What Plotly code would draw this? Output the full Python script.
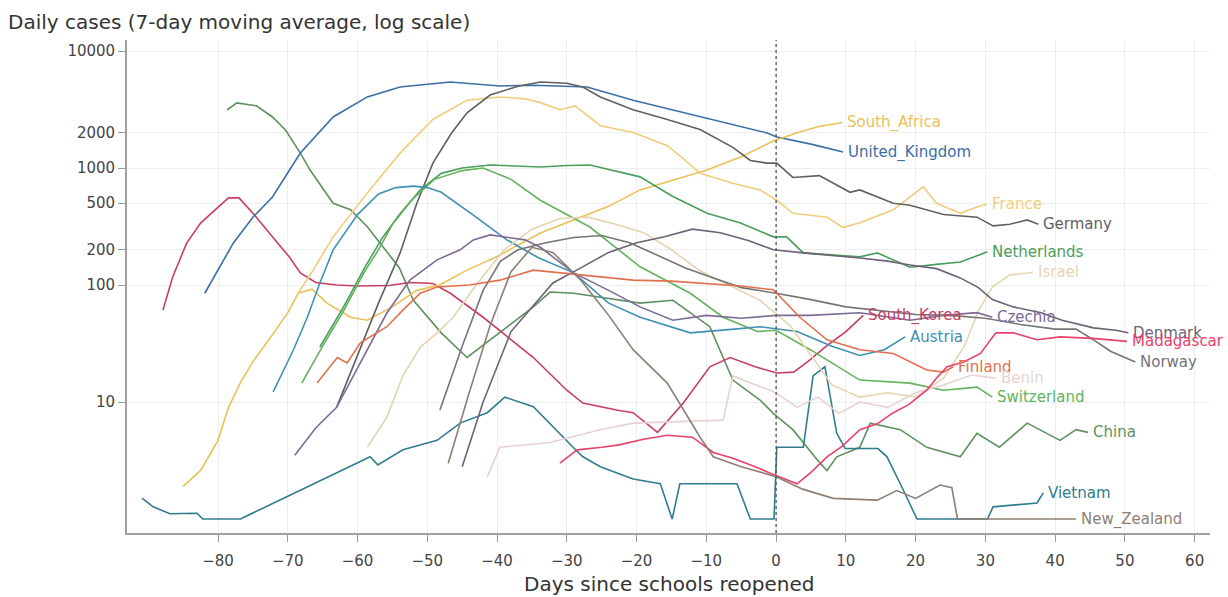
import math
import plotly.graph_objects as go

# Days since schools reopened / 7-day moving average of daily cases
south_africa_days = [-85, -82.5, -80, -78.5, -76.7, -74.8, -72, -70, -68.5, -66.5, -64.4, -61, -58.6, -55, -51.5, -48.2, -44.3, -40, -33.8, -28, -24, -19.5, -15, -9.9, -5, -0.4, 3, 6, 9.5]
south_africa_cases = [1.9, 2.6, 4.7, 9, 15, 23, 39, 58, 85, 92, 70, 53, 50, 65, 90, 100, 134, 175, 278, 380, 470, 650, 780, 960, 1250, 1700, 2000, 2250, 2450]

uk_days = [-81.9, -77.8, -75, -72.2, -68.2, -63.5, -58.6, -53.9, -46.7, -39.6, -34.8, -27.1, -20.5, -10.9, -1.3, 0.1, 5, 9.6]
uk_cases = [85, 229, 380, 565, 1343, 2730, 4050, 4920, 5430, 5020, 5100, 4920, 3800, 2730, 1990, 1840, 1600, 1370]

france_days = [-68.5, -66.4, -63.5, -58.6, -53.9, -49.2, -44.3, -39.6, -36, -33.8, -31, -28.8, -25.2, -20.5, -15.6, -13.3, -10.9, -6.2, -2.3, 0.1, 2.4, 7.3, 9.6, 12, 16.8, 19.2, 21.1, 23, 26.4, 28.8, 30.2]
france_cases = [85, 133, 258, 610, 1340, 2600, 3800, 4050, 3900, 3620, 3150, 3390, 2300, 2010, 1550, 1200, 900, 740, 650, 530, 410, 380, 310, 340, 440, 560, 690, 500, 410, 465, 490]

germany_days = [-63, -60, -57, -53.9, -51.5, -49.2, -46.5, -44.3, -41, -37, -33.8, -30, -27.7, -25.2, -20.5, -15.6, -10.9, -6.2, -3.7, -1.3, 0.1, 2.4, 6.2, 10.6, 12, 16.8, 19.2, 24, 28.8, 31.1, 33.5, 36, 37.6]
germany_cases = [9, 25, 70, 188, 500, 1100, 2000, 2960, 4200, 5000, 5430, 5300, 4920, 4050, 3150, 2600, 2130, 1500, 1160, 1100, 1100, 830, 860, 620, 650, 500, 480, 400, 380, 320, 330, 360, 330]

netherlands_days = [-65.4, -62, -59, -56.5, -54, -51, -48, -45, -41, -33.8, -30, -26.7, -19.5, -14.8, -9.9, -5.2, -0.4, 1.5, 3.9, 8, 12, 14.5, 19.2, 23, 26.4, 30.3]
netherlands_cases = [29.5, 65, 140, 250, 400, 650, 900, 1000, 1060, 1020, 1050, 1060, 840, 570, 410, 340, 258, 258, 188, 180, 174, 188, 142, 150, 157, 192]

israel_days = [-58.6, -55.8, -53.5, -51, -48.6, -46.3, -43, -39, -35, -31, -27, -23, -19, -15, -11, -6, -2.3, 2, 5, 8, 12, 16, 20, 24, 27, 29, 31, 33.5, 36.8]
israel_cases = [4.1, 7.4, 16.7, 29.5, 39, 53, 100, 200, 300, 370, 380, 330, 280, 200, 133, 95, 74, 45, 25, 14, 11, 12, 11, 16, 30, 60, 96, 122, 128]

south_korea_days = [-87.9, -86.5, -84.5, -82.5, -80.5, -78.5, -77, -75, -72.2, -69.8, -68.2, -66, -63, -60, -55.5, -52.5, -49.2, -46.7, -42, -34.8, -30, -27.7, -22.7, -20.5, -17, -13.3, -9.5, -6.6, -3, 0.1, 2.5, 4.5, 7.2, 10, 12.5]
south_korea_cases = [61, 117, 228, 338, 435, 555, 555, 410, 258, 174, 127, 105, 100, 98, 99, 105, 103, 85, 53, 24, 12.6, 9.8, 8.5, 8.1, 5.5, 9.8, 20, 24, 20, 17.7, 18, 22, 30, 40, 55]

czechia_days = [-69, -66, -63, -59.6, -55.8, -52.5, -48.6, -45.3, -43.4, -41, -36, -33.8, -29, -24, -19.5, -14.8, -10, -5, 0, 4.9, 12, 19.2, 24, 28.8, 31]
czechia_cases = [3.5, 6, 9, 21.6, 57.6, 110, 164, 200, 243, 268, 243, 210, 127, 90, 65, 50, 55, 52, 55, 55, 58, 50, 55, 58, 53]

denmark_days = [-45, -42, -38, -32, -28, -24, -20, -16, -12, -8, -4, -0.4, 3.9, 8, 12, 16, 19.2, 23, 26.4, 29, 31, 34, 38, 41, 45.5, 48.7, 50.5]
denmark_cases = [2.8, 10, 40, 104, 140, 190, 230, 258, 300, 280, 240, 200, 188, 180, 170, 160, 148, 138, 115, 95, 75, 65, 58, 50, 43, 41, 39]

madagascar_days = [-31, -28.5, -25, -22.5, -19, -15.6, -12, -9, -6.2, -3, -0.4, 3, 5, 7.3, 9.5, 12, 14.5, 16.8, 19, 21.6, 23, 24.5, 26.9, 29.3, 31.5, 34, 37.4, 40.7, 45.4, 48, 50.3]
madagascar_cases = [3.0, 3.9, 4.1, 4.3, 4.8, 5.2, 5.0, 3.7, 3.3, 2.8, 2.4, 2.0, 2.5, 3.4, 4.2, 5.8, 6.5, 8.1, 9.5, 12.6, 16, 20, 22, 26, 39, 39, 34, 36, 35, 34, 33]

norway_days = [-48.2, -45, -42, -39.5, -37, -33, -29, -25, -21, -17, -13, -9, -5, 0, 5, 10, 15, 20, 25, 30, 35, 40, 43, 45.5, 48, 51.5]
norway_cases = [8.5, 30, 90, 160, 200, 230, 255, 265, 230, 180, 140, 115, 95, 85, 75, 65, 60, 56, 55, 52, 46, 42, 42, 34, 27, 22]

austria_days = [-72.1, -69.2, -67.2, -65.4, -63.5, -60, -57, -54.5, -52, -50, -48, -43.5, -38.6, -34, -29, -24, -19.5, -12.3, -6, -2.3, 3, 8, 12, 15.5, 18.5]
austria_cases = [12.2, 27.8, 53, 104, 200, 400, 600, 680, 700, 680, 620, 400, 243, 170, 127, 70, 53, 39, 42, 44, 40, 30, 25, 28, 36]

finland_days = [-65.8, -62.9, -61.5, -59.6, -55.8, -53.5, -51, -48.6, -44, -39.6, -34.8, -30, -25.2, -20.5, -15, -10.9, -5, -0.4, 3.4, 7.3, 12, 16.8, 21.6, 24, 25.4]
finland_cases = [14.5, 24, 21.6, 32, 44, 61, 85, 96, 100, 110, 134, 125, 117, 110, 108, 104, 98, 91, 53, 34, 28, 26, 18.8, 18, 20]

benin_days = [-41.4, -39.6, -32.4, -25.2, -20.5, -7.6, -6.2, -3, 0, 3, 6, 9, 12, 16, 20, 24, 28, 31.5]
benin_cases = [2.3, 4.1, 4.5, 5.8, 6.6, 7, 16.7, 14, 12, 9, 11, 8, 10, 9, 12, 14, 17, 16]

switzerland_days = [-68, -65, -62, -59, -57, -55, -52, -49, -45, -42, -38, -33.8, -26.7, -19.5, -12.3, -7.6, -2.7, 0, 4.9, 12, 19.2, 24, 28.8, 31]
switzerland_cases = [14.5, 30, 60, 130, 200, 330, 550, 800, 950, 1000, 800, 530, 313, 143, 85, 53, 40, 41, 28, 15.4, 14.5, 12.6, 13.4, 11]

china_days = [-78.7, -77.3, -74.5, -72.2, -70.3, -68.2, -66.8, -63.5, -61, -58.6, -56.3, -54, -52, -48, -44.3, -39.6, -34.8, -32.4, -29, -19.5, -14.8, -9.5, -6.2, -2.3, -0.4, 2.4, 6.3, 7.3, 8.7, 12, 13.5, 17.8, 21.6, 26.4, 28.8, 32, 36, 40.7, 43, 44.7]
china_cases = [3130, 3600, 3400, 2730, 2100, 1340, 960, 500, 440, 315, 210, 140, 74, 39, 24, 39, 65, 87, 85, 70, 74, 44, 15.4, 10.4, 8, 5.8, 3.0, 2.6, 3.4, 4.1, 6.6, 5.8, 4.1, 3.4, 5.4, 4.1, 6.6, 4.7, 5.8, 5.5]

vietnam_days = [-90.9, -89.3, -86.9, -83, -82.2, -76.8, -58.2, -57.1, -53.5, -48.6, -45.3, -41.4, -38.9, -34.8, -29.1, -27.7, -25.2, -20.5, -16.6, -14.9, -13.8, -5.6, -3.7, -0.3, 0.1, 3.9, 5.3, 7, 8.7, 9.9, 14.6, 15.9, 17.8, 20.2, 30.3, 31.1, 37.4, 38.3]
vietnam_cases = [1.51, 1.27, 1.11, 1.12, 1.0, 1.0, 3.4, 2.9, 3.9, 4.7, 6.6, 8.1, 11.0, 9.1, 4.1, 3.4, 2.8, 2.2, 2.0, 1.0, 2.0, 2.0, 1.0, 1.0, 4.1, 4.1, 16.7, 20, 5.4, 4.0, 4.0, 3.4, 2.0, 1.0, 1.0, 1.27, 1.37, 1.67]

new_zealand_days = [-47, -44, -41, -38, -35, -32, -28, -24, -20.5, -15.6, -10.9, -9, -5, 0, 3.8, 8.2, 14.5, 17.3, 20, 23.5, 25.2, 26, 43]
new_zealand_cases = [3, 12, 45, 130, 210, 190, 110, 55, 28, 14.5, 5, 3.4, 2.8, 2.3, 1.8, 1.5, 1.45, 1.75, 1.5, 1.95, 1.85, 1.0, 1.0]

y_tick_values = [10, 100, 200, 500, 1000, 2000, 10000]
y_tick_labels = ["10", "100", "200", "500", "1000", "2000", "10000"]
x_tick_values = [-80, -70, -60, -50, -40, -30, -20, -10, 0, 10, 20, 30, 40, 50, 60]

countries = [
    ("China", china_days, china_cases, "#5f9160"),
    ("South_Korea", south_korea_days, south_korea_cases, "#c93d62"),
    ("Vietnam", vietnam_days, vietnam_cases, "#2f7d8d"),
    ("United_Kingdom", uk_days, uk_cases, "#3c6ea6"),
    ("South_Africa", south_africa_days, south_africa_cases, "#e9c157"),
    ("France", france_days, france_cases, "#f0cd7c"),
    ("Germany", germany_days, germany_cases, "#606060"),
    ("Netherlands", netherlands_days, netherlands_cases, "#4b9e5d"),
    ("Switzerland", switzerland_days, switzerland_cases, "#63b25e"),
    ("Austria", austria_days, austria_cases, "#4090b2"),
    ("Israel", israel_days, israel_cases, "#e4d4b2"),
    ("Czechia", czechia_days, czechia_cases, "#7d6b94"),
    ("Denmark", denmark_days, denmark_cases, "#6e6178"),
    ("Norway", norway_days, norway_cases, "#757575"),
    ("Finland", finland_days, finland_cases, "#e2704f"),
    ("Benin", benin_days, benin_cases, "#e6d2d2"),
    ("Madagascar", madagascar_days, madagascar_cases, "#e8426b"),
    ("New_Zealand", new_zealand_days, new_zealand_cases, "#8f7f73"),
]

FONT = "DejaVu Sans"

fig = go.Figure()
annotations = []
for name, days, cases, color in countries:
    fig.add_trace(go.Scatter(
        x=days, y=cases, mode="lines", name=name,
        line=dict(color=color, width=1.6),
        hoverinfo="x+y+name",
    ))
    annotations.append(dict(
        x=days[-1], y=math.log10(cases[-1]), xref="x", yref="y",
        text=name, showarrow=False, xanchor="left", yanchor="middle",
        xshift=3, font=dict(family=FONT, size=15, color=color),
    ))

annotations.append(dict(
    x=0.5, y=-0.103, xref="paper", yref="paper",
    text="Days since schools reopened", showarrow=False,
    xanchor="center", yanchor="middle",
    font=dict(family=FONT, size=20, color="#333333"),
))

fig.add_shape(
    type="line", x0=0, x1=0, y0=0, y1=1, xref="x", yref="paper",
    line=dict(color="#555555", width=1.3, dash="3px,3px"),
)

fig.update_layout(
    width=1228, height=597,
    margin=dict(l=127, r=18, t=40, b=64),
    paper_bgcolor="white", plot_bgcolor="white",
    showlegend=False,
    title=dict(
        text="Daily cases (7-day moving average, log scale)",
        x=8 / 1228, y=1 - 22 / 597, xref="container", yref="container",
        xanchor="left", yanchor="middle",
        font=dict(family=FONT, size=20, color="#333333"),
    ),
    annotations=annotations,
    font=dict(family=FONT, size=15, color="#444444"),
)

fig.update_xaxes(
    range=[-93.05, 62.2],
    tickvals=x_tick_values,
    ticks="outside", ticklen=7, tickcolor="#999999", tickwidth=1,
    ticklabelstandoff=6,
    showline=True, linecolor="#a0a0a0", linewidth=1.8,
    showgrid=True, gridcolor="#eeeeee", gridwidth=1,
    zeroline=False,
    tickfont=dict(family=FONT, size=15, color="#444444"),
)

fig.update_yaxes(
    type="log",
    range=[-0.1197, 4.094],
    tickvals=y_tick_values, ticktext=y_tick_labels,
    ticks="outside", ticklen=7, tickcolor="#999999", tickwidth=1,
    showline=True, linecolor="#a0a0a0", linewidth=1.8,
    showgrid=True, gridcolor="#eeeeee", gridwidth=1,
    zeroline=False,
    tickfont=dict(family=FONT, size=15, color="#444444"),
)

fig.write_html("out.html")
